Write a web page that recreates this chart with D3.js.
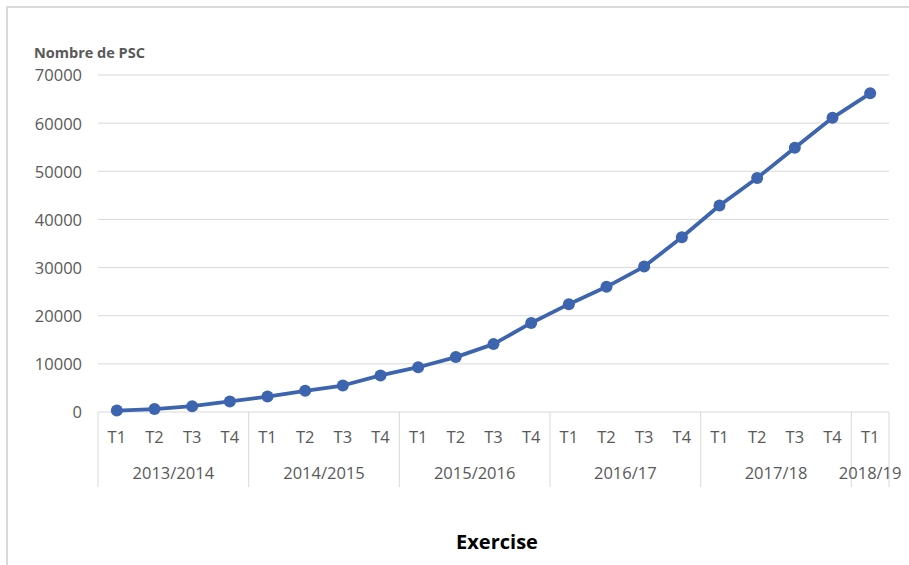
<!DOCTYPE html>
<html><head><meta charset="utf-8">
<script src="https://cdn.jsdelivr.net/npm/d3@7"></script>
<style>html,body{margin:0;padding:0;background:#fff;}svg{display:block;}</style>
</head><body>
<svg id="chart" width="909" height="565"></svg>
<script>
const quarters = ["T1","T2","T3","T4","T1","T2","T3","T4","T1","T2","T3","T4","T1","T2","T3","T4","T1","T2","T3","T4","T1"];
const years = ["2013/2014","2014/2015","2015/2016","2016/17","2017/18","2018/19"];
const yearSizes = [4,4,4,4,4,1];
const values = [300,600,1200,2200,3200,4400,5500,7600,9300,11400,14100,18500,22400,26000,30200,36300,42900,48600,54900,61100,66200];
const yTicks = [0,10000,20000,30000,40000,50000,60000,70000];

(function(){
const svg = d3.select("#chart");
const font = "'Open Sans', 'Liberation Sans', sans-serif";
const pLeft = 98, pRight = 889, pTop = 75, pBottom = 412;

// outer frame
svg.append("path").attr("d","M7,565V7H909").attr("fill","none").attr("stroke","#d9d9d9").attr("stroke-width",2);

const x = d3.scaleBand().domain(d3.range(values.length)).range([pLeft,pRight]).padding(0);
const y = d3.scaleLinear().domain([0,70000]).range([pBottom,pTop]);

// gridlines
svg.append("g").selectAll("line").data(yTicks.slice(1)).join("line")
  .attr("x1",pLeft).attr("x2",pRight).attr("y1",d=>y(d)).attr("y2",d=>y(d))
  .attr("stroke","#d9d9d9").attr("stroke-width",1);

// y axis labels
const yAxis = d3.axisLeft(y).tickValues(yTicks).tickSize(0).tickPadding(16).tickFormat(d3.format("d"));
const ya = svg.append("g").attr("transform",`translate(${pLeft},0)`).call(yAxis);
ya.select(".domain").remove();
ya.selectAll("text").attr("fill","#595959").attr("dy","0.36em").style("font-family",font).style("font-size","16.5px");

// category axis
svg.append("line").attr("x1",pLeft).attr("x2",pRight).attr("y1",pBottom).attr("y2",pBottom).attr("stroke","#d9d9d9").attr("stroke-width",1);
const bw = x.bandwidth();
const bounds = [0];
yearSizes.forEach((s,i)=>bounds.push(bounds[i]+s));
svg.append("g").selectAll("line").data(bounds).join("line")
  .attr("x1",d=>pLeft + d*bw).attr("x2",d=>pLeft + d*bw).attr("y1",pBottom).attr("y2",487)
  .attr("stroke","#d9d9d9").attr("stroke-width",1);

svg.append("g").selectAll("text").data(quarters).join("text")
  .attr("x",(d,i)=>x(i)+bw/2).attr("y",443).attr("text-anchor","middle")
  .attr("fill","#595959").style("font-family",font).style("font-size","16.5px").text(d=>d);

svg.append("g").selectAll("text").data(years).join("text")
  .attr("x",(d,i)=>pLeft + (bounds[i]+yearSizes[i]/2)*bw).attr("y",479).attr("text-anchor","middle")
  .attr("fill","#595959").style("font-family",font).style("font-size","16.5px").text(d=>d);

// line
const lineColor = "#3d64ae";
svg.append("path").datum(values)
  .attr("d", d3.line().x((d,i)=>x(i)+bw/2).y(d=>y(d)))
  .attr("fill","none").attr("stroke",lineColor).attr("stroke-width",3.8).attr("stroke-linejoin","round");
svg.append("g").selectAll("circle").data(values).join("circle")
  .attr("cx",(d,i)=>x(i)+bw/2).attr("cy",d=>y(d)).attr("r",6).attr("fill",lineColor);

// titles
svg.append("text").attr("x",34).attr("y",58).attr("fill","#595959")
  .style("font-family",font).style("font-size","14.5px").style("font-weight","bold").text("Nombre de PSC");
svg.append("text").attr("x",497).attr("y",549).attr("text-anchor","middle").attr("fill","#000")
  .style("font-family",font).style("font-size","20px").style("font-weight","bold").text("Exercise");
})();
</script>
</body></html>
